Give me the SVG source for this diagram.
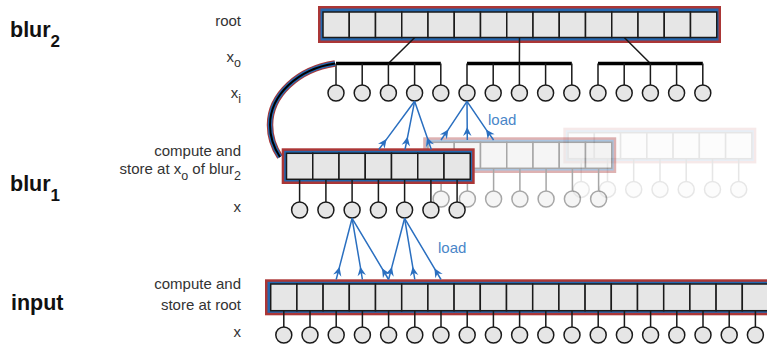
<svg xmlns="http://www.w3.org/2000/svg" xmlns:xlink="http://www.w3.org/1999/xlink" width="767" height="346" viewBox="0 0 767 346">
<style>
.lbl{font-family:"Liberation Sans",Arial,sans-serif;font-size:15px;fill:#333}
.sub{font-size:12.5px}
.big{font-family:"Liberation Sans",Arial,sans-serif;font-size:21.5px;font-weight:bold;fill:#111}
.bigsub{font-size:17px}
.load{font-family:"Liberation Sans",Arial,sans-serif;font-size:15px;fill:#4a86c8}
.cell{fill:#e6e6e6;stroke:#1a1a1a;stroke-width:1.5}
.dot{fill:#e6e6e6;stroke:#1a1a1a;stroke-width:1.5}
.stem{stroke:#1a1a1a;stroke-width:1.5;fill:none}
.bar{stroke:#000;stroke-width:3.5;fill:none}
.red{fill:#ab3636}
.blue{fill:#2468b0}
.arr{stroke:#2a6fc0;stroke-width:1.5;fill:none;marker-mid:url(#ah)}
</style>
<defs>
<marker id="ah" viewBox="0 0 10 10" refX="10" refY="5" markerWidth="10" markerHeight="9" markerUnits="userSpaceOnUse" orient="auto">
<path d="M10,5 L0,0.3 L3.2,5 L0,9.7 Z" fill="#2a6fc0"/>
</marker>
</defs>

<!-- labels -->
<g id="labels">
<text class="big" x="10" y="37">blur<tspan class="bigsub" dy="10">2</tspan></text>
<text class="big" x="10" y="191">blur<tspan class="bigsub" dy="10">1</tspan></text>
<text class="big" x="11" y="310">input</text>
<text class="lbl" x="241" y="26" text-anchor="end">root</text>
<text class="lbl" x="241" y="62" text-anchor="end">x<tspan class="sub" dy="4.5">o</tspan></text>
<text class="lbl" x="241" y="98" text-anchor="end">x<tspan class="sub" dy="4.5">i</tspan></text>
<text class="lbl" x="241" y="156" text-anchor="end">compute and</text>
<text class="lbl" x="241" y="174" text-anchor="end">store at x<tspan class="sub" dy="6">o</tspan><tspan dy="-6"> of blur</tspan><tspan class="sub" dy="6">2</tspan></text>
<text class="lbl" x="241" y="212" text-anchor="end">x</text>
<text class="lbl" x="241" y="289" text-anchor="end">compute and</text>
<text class="lbl" x="241" y="310" text-anchor="end">store at root</text>
<text class="lbl" x="241" y="337" text-anchor="end">x</text>
</g>

<!-- faded copies of blur1 -->
<use id="blur1-iter3" xlink:href="#blur1" href="#blur1" transform="translate(281.6,-20.6)" opacity="0.1"/>
<use id="blur1-iter2" xlink:href="#blur1" href="#blur1" transform="translate(141.5,-11)" opacity="0.38"/>

<!-- blur2 root -->
<g id="blur2-root">
<rect class="red" x="318" y="6" width="403" height="37"/>
<rect class="blue" x="320.5" y="8.5" width="398" height="32"/>
<rect class="cell" x="323" y="12" width="26.25" height="25.5"/>
<rect class="cell" x="349.25" y="12" width="26.25" height="25.5"/>
<rect class="cell" x="375.5" y="12" width="26.25" height="25.5"/>
<rect class="cell" x="401.75" y="12" width="26.25" height="25.5"/>
<rect class="cell" x="428" y="12" width="26.25" height="25.5"/>
<rect class="cell" x="454.25" y="12" width="26.25" height="25.5"/>
<rect class="cell" x="480.5" y="12" width="26.25" height="25.5"/>
<rect class="cell" x="506.75" y="12" width="26.25" height="25.5"/>
<rect class="cell" x="533" y="12" width="26.25" height="25.5"/>
<rect class="cell" x="559.25" y="12" width="26.25" height="25.5"/>
<rect class="cell" x="585.5" y="12" width="26.25" height="25.5"/>
<rect class="cell" x="611.75" y="12" width="26.25" height="25.5"/>
<rect class="cell" x="638" y="12" width="26.25" height="25.5"/>
<rect class="cell" x="664.25" y="12" width="26.25" height="25.5"/>
<rect class="cell" x="690.5" y="12" width="26.25" height="25.5"/>
</g>

<!-- blur2 split tree -->
<g id="blur2-tree">
<path class="stem" d="M414.7,37.5 L388.4,63.5 M519.5,37.5 L519.4,63.5 M624.3,37.5 L650.4,63.5"/>
<path class="bar" d="M336,63.5 H440.8 M467,63.5 H571.8 M598,63.5 H702.8"/>
<path class="stem" d="M336,63.5V85 M362.2,63.5V85 M388.4,63.5V85 M414.6,63.5V85 M440.8,63.5V85 M467,63.5V85 M493.2,63.5V85 M519.4,63.5V85 M545.6,63.5V85 M571.8,63.5V85 M598,63.5V85 M624.2,63.5V85 M650.4,63.5V85 M676.6,63.5V85 M702.8,63.5V85"/>
<circle class="dot" cx="336" cy="93" r="8"/>
<circle class="dot" cx="362.2" cy="93" r="8"/>
<circle class="dot" cx="388.4" cy="93" r="8"/>
<circle class="dot" cx="414.6" cy="93" r="8"/>
<circle class="dot" cx="440.8" cy="93" r="8"/>
<circle class="dot" cx="467" cy="93" r="8"/>
<circle class="dot" cx="493.2" cy="93" r="8"/>
<circle class="dot" cx="519.4" cy="93" r="8"/>
<circle class="dot" cx="545.6" cy="93" r="8"/>
<circle class="dot" cx="571.8" cy="93" r="8"/>
<circle class="dot" cx="598" cy="93" r="8"/>
<circle class="dot" cx="624.2" cy="93" r="8"/>
<circle class="dot" cx="650.4" cy="93" r="8"/>
<circle class="dot" cx="676.6" cy="93" r="8"/>
<circle class="dot" cx="702.8" cy="93" r="8"/>
</g>

<!-- blur1 main -->
<g id="blur1">
<rect class="red" x="281.7" y="148.3" width="193" height="35.7"/>
<rect class="blue" x="284.2" y="150.8" width="188" height="30.7"/>
<rect class="cell" x="286.5" y="153.3" width="26.25" height="26"/>
<rect class="cell" x="312.75" y="153.3" width="26.25" height="26"/>
<rect class="cell" x="339" y="153.3" width="26.25" height="26"/>
<rect class="cell" x="365.25" y="153.3" width="26.25" height="26"/>
<rect class="cell" x="391.5" y="153.3" width="26.25" height="26"/>
<rect class="cell" x="417.75" y="153.3" width="26.25" height="26"/>
<rect class="cell" x="444" y="153.3" width="26.25" height="26"/>
<path class="stem" d="M299.6,179.3V202 M325.9,179.3V202 M352.1,179.3V202 M378.4,179.3V202 M404.6,179.3V202 M430.9,179.3V202 M457.1,179.3V202"/>
<circle class="dot" cx="299.6" cy="210" r="8"/>
<circle class="dot" cx="325.9" cy="210" r="8"/>
<circle class="dot" cx="352.1" cy="210" r="8"/>
<circle class="dot" cx="378.4" cy="210" r="8"/>
<circle class="dot" cx="404.6" cy="210" r="8"/>
<circle class="dot" cx="430.9" cy="210" r="8"/>
<circle class="dot" cx="457.1" cy="210" r="8"/>
</g>

<!-- input -->
<g id="input">
<rect class="red" x="265" y="279.3" width="520" height="36"/>
<rect class="blue" x="267.5" y="281.8" width="515" height="31"/>
<rect class="cell" x="270.7" y="284" width="26.2" height="26.7"/>
<rect class="cell" x="296.9" y="284" width="26.2" height="26.7"/>
<rect class="cell" x="323.1" y="284" width="26.2" height="26.7"/>
<rect class="cell" x="349.3" y="284" width="26.2" height="26.7"/>
<rect class="cell" x="375.5" y="284" width="26.2" height="26.7"/>
<rect class="cell" x="401.7" y="284" width="26.2" height="26.7"/>
<rect class="cell" x="427.9" y="284" width="26.2" height="26.7"/>
<rect class="cell" x="454.1" y="284" width="26.2" height="26.7"/>
<rect class="cell" x="480.3" y="284" width="26.2" height="26.7"/>
<rect class="cell" x="506.5" y="284" width="26.2" height="26.7"/>
<rect class="cell" x="532.7" y="284" width="26.2" height="26.7"/>
<rect class="cell" x="558.9" y="284" width="26.2" height="26.7"/>
<rect class="cell" x="585.1" y="284" width="26.2" height="26.7"/>
<rect class="cell" x="611.3" y="284" width="26.2" height="26.7"/>
<rect class="cell" x="637.5" y="284" width="26.2" height="26.7"/>
<rect class="cell" x="663.7" y="284" width="26.2" height="26.7"/>
<rect class="cell" x="689.9" y="284" width="26.2" height="26.7"/>
<rect class="cell" x="716.1" y="284" width="26.2" height="26.7"/>
<rect class="cell" x="742.3" y="284" width="26.2" height="26.7"/>
<path class="stem" d="M283.8,310.7V327 M310,310.7V327 M336.2,310.7V327 M362.4,310.7V327 M388.6,310.7V327 M414.8,310.7V327 M441,310.7V327 M467.2,310.7V327 M493.4,310.7V327 M519.6,310.7V327 M545.8,310.7V327 M572,310.7V327 M598.2,310.7V327 M624.4,310.7V327 M650.6,310.7V327 M676.8,310.7V327 M703,310.7V327 M729.2,310.7V327 M755.4,310.7V327"/>
<circle class="dot" cx="283.8" cy="335" r="8"/>
<circle class="dot" cx="310" cy="335" r="8"/>
<circle class="dot" cx="336.2" cy="335" r="8"/>
<circle class="dot" cx="362.4" cy="335" r="8"/>
<circle class="dot" cx="388.6" cy="335" r="8"/>
<circle class="dot" cx="414.8" cy="335" r="8"/>
<circle class="dot" cx="441" cy="335" r="8"/>
<circle class="dot" cx="467.2" cy="335" r="8"/>
<circle class="dot" cx="493.4" cy="335" r="8"/>
<circle class="dot" cx="519.6" cy="335" r="8"/>
<circle class="dot" cx="545.8" cy="335" r="8"/>
<circle class="dot" cx="572" cy="335" r="8"/>
<circle class="dot" cx="598.2" cy="335" r="8"/>
<circle class="dot" cx="624.4" cy="335" r="8"/>
<circle class="dot" cx="650.6" cy="335" r="8"/>
<circle class="dot" cx="676.8" cy="335" r="8"/>
<circle class="dot" cx="703" cy="335" r="8"/>
<circle class="dot" cx="729.2" cy="335" r="8"/>
<circle class="dot" cx="755.4" cy="335" r="8"/>
</g>

<!-- connectors -->
<g id="connectors">
<g id="compute-at">
<path d="M335,63.5 C298,69 270,95 270,125 C270,138 274,148 280,157" stroke="#ab3636" stroke-width="6.5" fill="none"/>
<path d="M335,63.5 C298,69 270,95 270,125 C270,138 274,148 280,157" stroke="#2468b0" stroke-width="4.5" fill="none"/>
<path d="M335,63.5 C298,69 270,95 270,125 C270,138 274,148 280,157" stroke="#000" stroke-width="2" fill="none"/>
</g>
<g id="loads-blur2">
<path class="arr" d="M378.8,149.5 L386.6,139.1 L414.6,101.3"/>
<path class="arr" d="M405,149.5 L407.6,136.8 L414.6,101.3"/>
<path class="arr" d="M431.3,149.5 L427.1,137.2 L414.6,101.3"/>
<path class="arr" d="M441,140 L448.4,129.4 L467,101.3"/>
<path class="arr" d="M467.3,140 L467.2,127 L467,101.3"/>
<path class="arr" d="M493.6,140 L486,129.4 L467,101.3"/>
</g>
<g id="loads-blur1">
<path class="arr" d="M336.2,279.5 L339.5,266.9 L352.1,218.3"/>
<path class="arr" d="M362.4,279.5 L360.3,266.7 L352.1,218.3"/>
<path class="arr" d="M388.6,279.5 L382,268.3 L352.1,218.3"/>
<path class="arr" d="M388.6,279.5 L391.9,266.9 L404.6,218.3"/>
<path class="arr" d="M414.8,279.5 L412.7,266.7 L404.6,218.3"/>
<path class="arr" d="M441,279.5 L434.4,268.3 L404.6,218.3"/>
</g>
<text class="load" x="488" y="125">load</text>
<text class="load" x="438" y="253">load</text>
</g>
</svg>
